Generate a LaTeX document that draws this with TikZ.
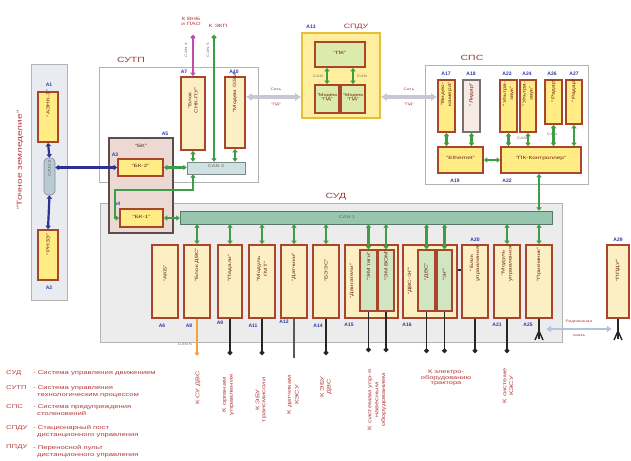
\documentclass[tikz,border=0pt]{standalone}
\usepackage{fontspec}
\setmainfont{Liberation Sans}
\newfontfamily\wf[FakeStretch=1.4]{Liberation Sans}
\usepackage{graphicx}
\usetikzlibrary{fit,arrows.meta,calc}
\definecolor{brd}{HTML}{A8452A}
\definecolor{ylw}{HTML}{FFEC85}
\definecolor{pyl}{HTML}{FCEFC4}
\definecolor{grn}{HTML}{3E9E45}
\definecolor{ibx}{HTML}{D2E5C2}
\definecolor{busa}{HTML}{96C6AE}
\definecolor{busb}{HTML}{CFE2E1}
\definecolor{busc}{HTML}{B8CBD5}
\definecolor{lblu}{HTML}{2B3BA6}
\definecolor{rtx}{HTML}{B33A3A}
\definecolor{sect}{HTML}{9E3A3A}
\definecolor{gbox}{HTML}{ECECEC}
\definecolor{gbrd}{HTML}{B3B3B3}
\definecolor{lbox}{HTML}{E8ECF1}
\definecolor{bkf}{HTML}{EDD9D3}
\definecolor{bkb}{HTML}{5C4C4C}
\definecolor{sgf}{HTML}{FFEE9E}
\definecolor{sgb}{HTML}{E5BF3A}
\definecolor{pkf}{HTML}{DCEBAA}
\definecolor{btx}{HTML}{6B2A10}
\definecolor{mag}{HTML}{C24BB2}
\definecolor{org}{HTML}{F2A531}
\definecolor{nvy}{HTML}{2E3192}
\definecolor{gya}{HTML}{C8C8D4}
\definecolor{rad}{HTML}{B4C2E2}
\definecolor{lrd}{HTML}{F5EAE4}
\newcommand{\vt}[1]{\rotatebox{90}{\shortstack{#1}}}
\tikzset{
  blk/.style={draw=brd,line width=1.8pt,fill=ylw,inner sep=0pt,text=btx,font=\wf\fontsize{4.6}{5.2}\selectfont,align=center},
  pblk/.style={blk,fill=pyl},
  iblk/.style={blk,fill=ibx,line width=1.2pt},
  grp/.style={draw=gbrd,line width=1pt,inner sep=0pt},
  busst/.style={inner sep=0pt,line width=0.6pt,font=\wf\fontsize{4}{4.5}\selectfont,text=black!60},
  an/.style={text=lblu,font=\bfseries\fontsize{5}{5.5}\selectfont,inner sep=0pt},
  sec/.style={text=sect,font=\wf\fontsize{7.5}{8}\selectfont,inner sep=0pt},
  stx/.style={text=black!55,font=\wf\fontsize{3.4}{3.8}\selectfont,inner sep=0pt},
  btxs/.style={text=btx,font=\wf\fontsize{4.6}{5.2}\selectfont,inner sep=0pt},
  rl/.style={text=rtx,font=\wf\fontsize{5.3}{5.6}\selectfont,inner sep=0pt,align=center},
  lg/.style={text=rtx,font=\wf\fontsize{5.5}{7}\selectfont,inner sep=0pt,anchor=north west,align=left},
  gc/.style={draw=grn,line width=2.2pt,{Triangle[length=3.4pt,width=5.2pt]}-{Triangle[length=3.4pt,width=5.2pt]}},
  nc/.style={draw=nvy,line width=2.2pt,{Triangle[length=3.4pt,width=5.2pt]}-{Triangle[length=3.4pt,width=5.2pt]}},
  bc/.style={draw=black!85,line width=1.8pt,-{Circle[length=4.4pt]}},
  gy/.style={draw=gya,line width=3.2pt,{Latex[length=6pt,width=8.5pt]}-{Latex[length=6pt,width=8.5pt]}},
  rd/.style={draw=rad,line width=2.4pt,{Latex[length=5pt,width=7pt]}-{Latex[length=5pt,width=7pt]}},
}
\begin{document}
\begin{tikzpicture}[x=1pt,y=-1pt]
\useasboundingbox (0,0) rectangle (631,460);
\clip (0,0) rectangle (631,460);
\fill[white] (0,0) rectangle (631,460);

% ---------- left group
\node[grp,fill=lbox,fit={(31,64)(67,300)}] (LB) {};
\node[rl,font=\wf\fontsize{7.2}{7.2}\selectfont] (TZ) at (20,160) {\rotatebox{90}{“Точное земледелие”}};
\node[blk,fit={(38,92)(58,142)}] (A1) {\vt{“АЭНК-1”}};
\node[blk,fit={(38,230)(58,280)}] (A2) {\vt{“РНЗЭ”}};
\node[busst,draw=busc!70!black,fill=busc,rounded corners=4pt,fit={(44,158)(55,195)}] (CAN3) {\vt{CAN 3}};
\node[an] (lA1) at (49,85) {А1};
\node[an] (lA2) at (49,288) {А2};

% ---------- SUTP
\node[grp,fill=white,fit={(99,67)(258,182)}] (SUTP) {};
\node[sec] (tSUTP) at (131,60) {СУТП};
% ---------- SUD
\node[grp,fill=gbox,fit={(100,203)(562,342)}] (SUD) {};
\node[sec] (tSUD) at (336,197) {СУД};

% ---------- A5 (БК)
\node[draw=bkb,line width=1.6pt,fill=bkf,inner sep=0pt,fit={(109,138)(173,233)}] (A5) {};
\node[btxs] (tA5) at (141,146) {“БК”};
\node[an] (lA5) at (165,134) {А5};
\node[blk,fit={(118,159)(163,176)}] (A3) {“БК-2”};
\node[an] (lA3) at (115,155) {А3};
\node[blk,fit={(120,209)(163,227)}] (A4) {“БК-1”};
\node[an] (lA4) at (117,204) {А4};

% ---------- SUTP content
\node[busst,draw=busb!60!black,fill=busb,fit={(187,162)(245,174)}] (CAN2) {CAN 2};
\node[pblk,fit={(181,77)(205,150)}] (A7) {\vt{“Блок\\СНК-ПУ”}};
\node[pblk,fit={(225,77)(245,148)}] (A10) {\vt{“Модем GSM”}};
\node[an] (lA7) at (184,72) {А7};
\node[an] (lA10) at (234,72) {А10};
\coordinate (tm) at (193,35);
\coordinate (tg) at (214,35);
\node[rl,font=\wf\fontsize{4.6}{5}\selectfont] (tK1) at (191,21) {К ВНБ\\и ПАО};
\node[rl,font=\wf\fontsize{4.6}{5}\selectfont] (tK2) at (218,26) {К ЭКП};
\node[stx] (c4) at (186,50) {\rotatebox{90}{CAN 4}};
\node[stx] (c5) at (208,50) {\rotatebox{90}{CAN 5}};

% ---------- CAN1 bus
\node[busst,draw=busa!60!black,fill=busa,fit={(180,211)(552,224)}] (CAN1) {};
\node[busst] (tCAN1) at (347,217.5) {CAN 1};

% ---------- SUD blocks
\node[pblk,fit={(152,245)(178,318)}] (A6) {\vt{“АКБ”}};
\node[pblk,fit={(184,245)(210,318)}] (A8) {\vt{“Блок ДВС”}};
\node[pblk,fit={(218,245)(242,318)}] (A9) {\vt{“Педали”}};
\node[pblk,fit={(249,245)(275,318)}] (A11) {\vt{“Модуль\\ГМТ”}};
\node[pblk,fit={(281,245)(307,318)}] (A12) {\vt{“Датчики”}};
\node[pblk,fit={(313,245)(339,318)}] (A14) {\vt{“БЭЭС”}};
\node[pblk,fit={(345,245)(398,318)}] (A15) {};
\node[btxs] (tA15) at (352,281) {\rotatebox{90}{“Двигатели”}};
\node[iblk,fit={(360,250)(377,311)}] (I15a) {\vt{“ЭМ тяги”}};
\node[iblk,fit={(378,250)(394,311)}] (I15b) {\vt{“ЭМ ВОМ”}};
\node[pblk,fit={(403,245)(457,318)}] (A16) {};
\node[btxs] (tA16) at (410,281) {\rotatebox{90}{“ДВС-ЭГ”}};
\node[iblk,fit={(418,250)(435,311)}] (I16a) {\vt{“ДВС”}};
\node[iblk,fit={(437,250)(452,311)}] (I16b) {\vt{“ЭГ”}};
\node[pblk,fit={(462,245)(488,318)}] (A20) {\vt{“Блок\\управления”}};
\node[pblk,fit={(494,245)(520,318)}] (A21) {\vt{“Модуль\\управления”}};
\node[pblk,fit={(526,245)(552,318)}] (A25) {\vt{“Приемник”}};
\node[pblk,fit={(607,245)(629,318)}] (A29) {\vt{“ППДУ”}};

\node[an] (lA6) at (162,326) {А6};
\node[an] (lA8) at (189,326) {А8};
\node[an] (lA9) at (220,323) {А9};
\node[an] (lA11) at (253,326) {А11};
\node[an] (lA12) at (284,322) {А12};
\node[an] (lA14) at (318,326) {А14};
\node[an] (lA15) at (349,325) {А15};
\node[an] (lA16) at (407,325) {А16};
\node[an] (lA20) at (475,240) {А20};
\node[an] (lA21) at (497,325) {А21};
\node[an] (lA25) at (528,325) {А25};
\node[an] (lA29) at (618,240) {А29};

% ---------- SPDU
\node[draw=sgb,line width=1.6pt,fill=sgf,inner sep=0pt,fit={(302,33)(380,118)}] (A13) {};
\node[an] (lA13) at (311,27) {А13};
\node[sec,font=\wf\fontsize{6.3}{6.5}\selectfont] (tSPDU) at (356,27) {СПДУ};
\node[blk,fill=pkf,fit={(315,42)(365,67)}] (PK) {“ПК”};
\node[blk,fill=pkf,fit={(315,85)(339,113)},font=\wf\fontsize{4}{4.6}\selectfont] (M1) {“Модем\\“ПД”};
\node[blk,fill=pkf,fit={(341,85)(365,113)},font=\wf\fontsize{4}{4.6}\selectfont] (M2) {“Модем\\“ПД”};
\node[stx] (cM1) at (318,76) {CAN};
\node[stx] (cM2) at (362,76) {CAN};

% ---------- SPS
\node[grp,fill=white,fit={(425,65)(588,184)}] (SPS) {};
\node[sec] (tSPS) at (472,58) {СПС};
\node[blk,fit={(438,80)(455,132)}] (A17) {\vt{“Видео-\\камера”}};
\node[blk,fill=lrd,draw=bkb!80,fit={(463,80)(480,132)}] (A18) {\vt{“Лидар”}};
\node[blk,fit={(500,80)(517,132)}] (A23) {\vt{“Ультра-\\звук”}};
\node[blk,fit={(520,80)(536,132)}] (A24) {\vt{“Ультра-\\звук”}};
\node[blk,fit={(545,80)(562,124)}] (A26) {\vt{“Радар”}};
\node[blk,fit={(566,80)(582,124)}] (A27) {\vt{“Радар”}};
\node[blk,fit={(438,147)(483,173)}] (A19) {“Ethernet”};
\node[blk,fit={(501,147)(581,173)}] (A22) {“ПК-Контроллер”};
\node[an] (lA17) at (446,74) {А17};
\node[an] (lA18) at (471,74) {А18};
\node[an] (lA23) at (507,74) {А23};
\node[an] (lA24) at (527,74) {А24};
\node[an] (lA26) at (552,74) {А26};
\node[an] (lA27) at (574,74) {А27};
\node[an] (lA19) at (455,181) {А19};
\node[an] (lA22) at (507,181) {А22};
\node[stx] (cS1) at (522,138) {CAN};
\node[stx] (cS2) at (552,134) {CAN};

% ---------- connectors: left
\draw[nc] (A1.south) -- (CAN3.north);
\draw[nc] (CAN3.south) -- (A2.north);
\draw[nc] (CAN3.east |- A3.west) -- (A3.west);

% ---------- connectors: SUTP
\draw[gc] (A3.east) -- (CAN2.west |- A3.east);
\draw[gc] (A7.south) -- (A7.south |- CAN2.north);
\draw[gc] (A10.south) -- (A10.south |- CAN2.north);
\draw[draw=mag,line width=2.2pt,{Circle[length=4.4pt]}-{Triangle[length=3.4pt,width=5.2pt]}] (tm) -- (A7.north);
\draw[draw=grn,line width=2.2pt,{Circle[length=4.4pt]}-{Triangle[length=3.4pt,width=5.2pt]}] (tg) -- (tg |- CAN2.north);
\coordinate (r1) at (193,190);
\coordinate (r2) at (115,190);
\draw[gc] (CAN2.south -| A7.south) -- (r1) -- (r2) |- (A4.west);
\draw[gc] (A4.east) -- (CAN1.west |- A4.east);

% ---------- grey links
\draw[gy] (A10.east |- 0,97) -- (A13.west |- 0,97);
\draw[gy] (A13.east |- 0,97) -- (A17.west |- 0,97);
\node[stx,text=rtx] (g1a) at (276,89) {Сеть};
\node[stx,text=rtx] (g1b) at (276,105) {“ПД”};
\node[stx,text=rtx] (g2a) at (409,89) {Сеть};
\node[stx,text=rtx] (g2b) at (409,105) {“ПД”};

% ---------- SPDU inner
\draw[gc] (PK.south -| M1.north) -- (M1.north);
\draw[gc] (PK.south -| M2.north) -- (M2.north);

% ---------- SPS inner
\draw[gc] (A17.south) -- (A17.south |- A19.north);
\draw[gc] (A18.south) -- (A18.south |- A19.north);
\draw[gc] (A23.south) -- (A23.south |- A22.north);
\draw[gc] (A24.south) -- (A24.south |- A22.north);
\draw[gc] (A26.south) -- (A26.south |- A22.north);
\draw[gc] (A27.south) -- (A27.south |- A22.north);
\draw[gc] (A19.east) -- (A22.west |- A19.east);
\draw[gc] (A22.south -| A25.north) -- (CAN1.north -| A25.north);

% ---------- CAN1 to SUD blocks
\foreach \b in {A8,A9,A11,A12,A14,I15a,I15b,I16a,I16b,A21,A25}{
  \draw[gc] (CAN1.south -| \b.north) -- (\b.north);
}
\draw[draw=black!85,line width=1.5pt] (A16.east |- 0,270) -- (A20.west |- 0,270);

% ---------- bottom leads
\coordinate (e8) at (197,356);
\coordinate (e9) at (230,355);
\coordinate (e11) at (262,355);
\coordinate (e12) at (294,358);
\coordinate (e14) at (326,355);
\coordinate (e15a) at (368.5,352);
\coordinate (e15b) at (386,352);
\coordinate (e16a) at (426.5,353);
\coordinate (e16b) at (444.5,353);
\coordinate (e20) at (475,353);
\coordinate (e21) at (507,353);
\coordinate (e25) at (539,339);
\coordinate (e29) at (618,339);
\draw[draw=org,line width=2pt,-{Triangle[length=3.5pt,width=5pt]}] (A8.south) -- (e8);
\node[stx] (c6) at (185,344) {CAN 6};
\draw[bc] (A9.south) -- (e9);
\draw[bc] (A11.south) -- (e11);
\draw[draw=black!65,line width=1.8pt] (A12.south) -- (e12);
\draw[bc] (A14.south) -- (e14);
\draw[bc] (I15a.south) -- (e15a);
\draw[bc] (I15b.south) -- (e15b);
\draw[bc] (I16a.south) -- (e16a);
\draw[bc] (I16b.south) -- (e16b);
\draw[bc] (A20.south) -- (e20);
\draw[bc] (A21.south) -- (e21);
\draw[draw=black!85,line width=1.7pt] (A25.south) -- (e25);
\draw[draw=black!85,line width=1.7pt] (A29.south -| e29) -- (e29);
\draw[draw=black!85,line width=1.4pt] ($(e25)+(-4,1)$) -- ($(e25)+(0,-8)$) -- ($(e25)+(4,1)$);
\draw[draw=black!85,line width=1.4pt] ($(e29)+(-4,1)$) -- ($(e29)+(0,-8)$) -- ($(e29)+(4,1)$);
\coordinate (ra) at (546,329);
\coordinate (rb) at (612,329);
\draw[rd] (ra) -- (rb);
\node[stx,text=rtx] (rdt) at (579,322) {Радиоканал};
\node[stx,text=rtx] (rdb) at (579,336) {связь};

% ---------- bottom labels
\node[rl] (L1) at (198,388) {\vt{К СУ ДВС}};
\node[rl] (L2) at (228,395) {\vt{К органам\\управления}};
\node[rl] (L3) at (261,400) {\vt{К ЭБУ\\трансмиссии}};
\node[rl] (L4) at (293,395) {\vt{К датчикам\\КЭСУ}};
\node[rl] (L5) at (326,387) {\vt{К ЭБУ\\ДВС}};
\node[rl] (L6) at (377,400) {\vt{К системам упр-я\\навесным\\оборудованием}};
\node[rl] (L7) at (446,378) {К электро-\\оборудованию\\трактора};
\node[rl] (L8) at (508,386) {\vt{К системе\\КЭСУ}};

% ---------- legend
\node[lg] (g1) at (6,370) {СУД};
\node[lg] (d1) at (33,370) {- Система управления движением};
\node[lg] (g2) at (6,385) {СУТП};
\node[lg] (d2) at (33,385) {- Система управления\\\hspace*{4pt}технологическим процессом};
\node[lg] (g3) at (6,404) {СПС};
\node[lg] (d3) at (33,404) {- Система предупреждения\\\hspace*{4pt}столкновений};
\node[lg] (g4) at (6,425) {СПДУ};
\node[lg] (d4) at (33,425) {- Стационарный пост\\\hspace*{4pt}дистанционного управления};
\node[lg] (g5) at (6,445) {ППДУ};
\node[lg] (d5) at (33,445) {- Переносной пульт\\\hspace*{4pt}дистанционного управления};
\end{tikzpicture}
\end{document}
